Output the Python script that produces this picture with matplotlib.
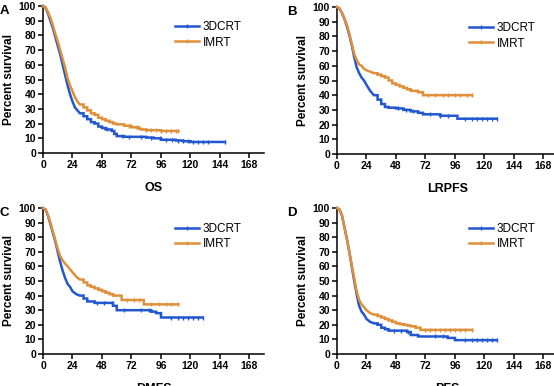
import matplotlib
matplotlib.use("Agg")
import matplotlib.pyplot as plt
from matplotlib.lines import Line2D
import numpy as np

plt.rcParams['font.family'] = ['Liberation Sans', 'DejaVu Sans']

BLUE = '#2157CF'
ORANGE = '#E08F3A'

# ---- Panel A: OS ----
os_3d_t = [0,2,4,6,8,10,12,14,16,18,20,22,24,26,28,30,33,36,39,42,45,48,51,54,56,58,60,66,72,78,84,90,96,102,108,114,120,132,148]
os_3d_s = [100,99,95,90,85,79,73,67,60,53,46,40,35,31,29,27,25,23,21,20,18,17,16,16,15,13,11.5,11,11,11,10.5,10,9,9,8.5,8,7.5,7.5,7.5]
os_3d_c = [52,64,70,80,88,95,100,105,110,114,118,122,126,130,134,148]
os_im_t = [0,2,4,6,8,10,12,14,16,18,20,22,24,26,28,30,33,36,39,42,45,48,51,54,57,60,66,72,78,80,84,96,110]
os_im_s = [100,99,96,92,87,81,76,70,64,58,51,46,42,38,35,33,31,29,27,26,24,23,22,21,20,19.5,18.5,17.5,16.5,16,15.5,15,15]
os_im_c = [70,76,84,88,92,96,100,104,108,110]

# ---- Panel B: LRPFS ----
lr_3d_t = [0,2,4,6,8,10,12,14,16,18,20,22,24,27,30,33,36,39,42,45,48,54,60,66,70,84,96,98,130]
lr_3d_s = [100,99,96,92,87,81,74,66,59,55,52,50,47,43,40,37,34,32,31.5,31.5,31,30,29,28,27,26,26,24,24]
lr_3d_c = [50,56,62,76,84,90,104,110,114,118,122,126,130]
lr_im_t = [0,2,4,6,8,10,12,14,16,18,20,22,24,27,30,33,36,39,42,45,48,51,54,57,60,66,70,110]
lr_im_s = [100,99,96,92,88,82,75,68,64,61,60,58,57,56,55,54,53,52,50,48,47,46,45,44,43,42,40,40]
lr_im_c = [74,80,86,90,96,100,106,110]

# ---- Panel C: DMFS ----
dm_3d_t = [0,2,4,6,8,10,12,14,16,18,20,22,24,27,30,33,36,42,48,54,57,60,66,72,84,88,92,96,130]
dm_3d_s = [100,99,95,89,83,77,70,63,57,52,48,46,43,41,40,38,36,35,35,35,33,30,30,30,30,29,28,25,25]
dm_3d_c = [44,50,56,66,80,86,104,110,114,118,122,126,130]
dm_im_t = [0,2,4,6,8,10,12,14,16,18,20,22,24,27,30,33,36,39,42,45,48,51,54,57,60,64,72,80,82,110]
dm_im_s = [100,99,95,90,84,78,72,67,64,62,60,58,56,53,51,49,47,46,45,44,43,42,41,40,40,37,37,37,34,34]
dm_im_c = [68,74,78,88,94,100,104,110]

# ---- Panel D: PFS ----
pf_3d_t = [0,2,4,6,8,10,12,14,16,18,20,22,24,27,30,33,36,39,42,48,54,57,60,66,72,84,90,96,130]
pf_3d_s = [100,99,95,87,79,70,60,50,41,33,29,27,24,22,21,20,18,17,16,16,16,15,13,12,12,12,11,9.5,9.5]
pf_3d_c = [46,52,58,80,86,104,110,114,118,122,126,130]
pf_im_t = [0,2,4,6,8,10,12,14,16,18,20,22,24,27,30,33,36,39,42,45,48,51,54,57,60,64,68,110]
pf_im_s = [100,99,95,87,79,70,61,52,43,37,34,32,30,28,27,26,25,24,23,22,21,20.5,20,19.5,19,18,16.5,16.5]
pf_im_c = [72,76,80,84,88,92,96,100,104,110]

xticks = [0,24,48,72,96,120,144,168]
yticks = [0,10,20,30,40,50,60,70,80,90,100]

panels = [
    ('A', 'OS', os_3d_t, os_3d_s, os_3d_c, os_im_t, os_im_s, os_im_c, [43, 6, 153]),
    ('B', 'LRPFS', lr_3d_t, lr_3d_s, lr_3d_c, lr_im_t, lr_im_s, lr_im_c, [337, 7, 154]),
    ('C', 'DMFS', dm_3d_t, dm_3d_s, dm_3d_c, dm_im_t, dm_im_s, dm_im_c, [43, 208, 354]),
    ('D', 'PFS', pf_3d_t, pf_3d_s, pf_3d_c, pf_im_t, pf_im_s, pf_im_c, [337, 208, 354]),
]

W, H = 554, 386
fig = plt.figure(figsize=(W/100, H/100), dpi=100)

SMOOTH_UNTIL = 30  # early dense-event region drawn as a continuous line


def km_path(t, s):
    xs, ys = [t[0]], [s[0]]
    for i in range(1, len(t)):
        if t[i] <= SMOOTH_UNTIL:
            xs.append(t[i]); ys.append(s[i])
        else:
            xs.append(t[i]); ys.append(s[i-1])
            xs.append(t[i]); ys.append(s[i])
    return xs, ys


def step_at(t, s, x):
    idx = np.searchsorted(t, x, side='right') - 1
    return np.array(s)[idx]


for letter, xlabel, t1, s1, c1, t2, s2, c2, (lx, ty, by) in panels:
    wpx = 1.229 * 180
    ax = fig.add_axes([lx/W, 1 - by/H, wpx/W, (by-ty)/H])
    for t, s, c, col in [(t1, s1, c1, BLUE), (t2, s2, c2, ORANGE)]:
        xs, ys = km_path(t, s)
        ax.plot(xs, ys, color=col, lw=1.8, clip_on=False, zorder=3,
                solid_joinstyle='miter')
        ax.plot(c, step_at(t, s, c), linestyle='none', marker='|', ms=3.5, mew=1.0,
                color=col, clip_on=False, zorder=3)
    ax.set_xlim(0, 180)
    ax.set_ylim(0, 100)
    ax.set_xticks(xticks)
    ax.set_yticks(yticks)
    for sp in ['top', 'right']:
        ax.spines[sp].set_visible(False)
    for sp in ['left', 'bottom']:
        ax.spines[sp].set_linewidth(1.1)
    ax.tick_params(axis='both', length=3.5, width=1.1, labelsize=7.5, pad=1.5)
    for lab in ax.get_xticklabels() + ax.get_yticklabels():
        lab.set_fontweight('bold')
    ax.set_ylabel('Percent survival', fontsize=8.5, fontweight='bold', labelpad=3)
    ax.set_xlabel(xlabel, fontsize=9, fontweight='bold', labelpad=9)
    handles = [Line2D([], [], color=BLUE, lw=1.8, marker='|', ms=3.5, mew=1.0),
               Line2D([], [], color=ORANGE, lw=1.8, marker='|', ms=3.5, mew=1.0)]
    ax.legend(handles, ['3DCRT', 'IMRT'], loc='upper right', bbox_to_anchor=(0.92, 0.93),
              frameon=False, fontsize=8.5, handlelength=2.0, handletextpad=0.35,
              labelspacing=0.3, borderaxespad=0)
    fig.text(0.0 if letter in 'AC' else (lx - 50) / W,
             1 - (ty - 1) / H, letter, fontsize=9.5, fontweight='bold', va='top', ha='left')

fig.savefig('out.png', dpi=100)
